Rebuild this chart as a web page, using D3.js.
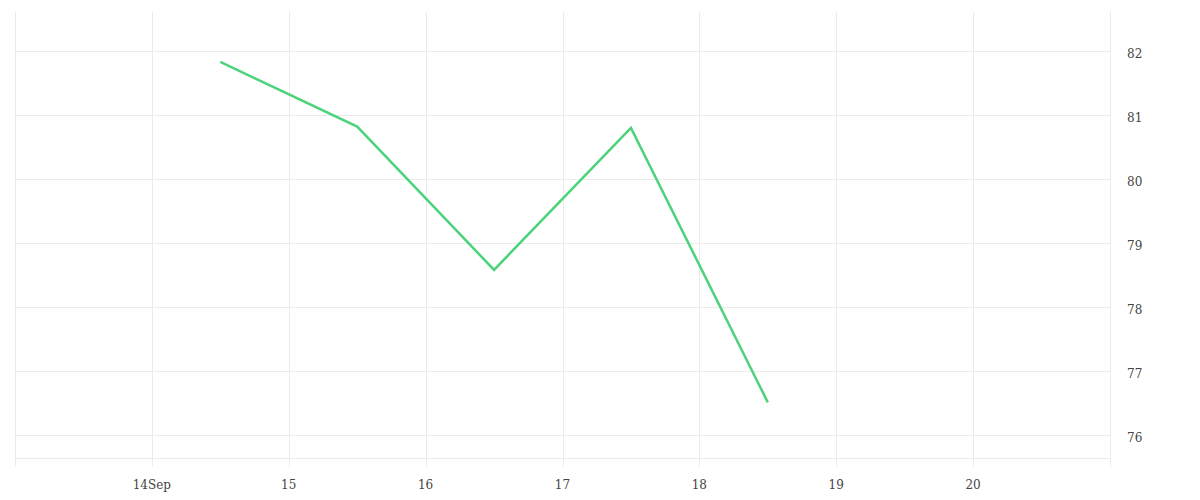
<!DOCTYPE html>
<html>
<head>
<meta charset="utf-8">
<script src="https://cdn.jsdelivr.net/npm/d3@7"></script>
<style>
  body { margin: 0; background: #fff; }
  text { font-family: "DejaVu Serif", serif; font-size: 12px; fill: #444; }
</style>
</head>
<body>
<div id="chart"></div>
<script>
// daily values, plotted at midday
var days = ["2020-09-14", "2020-09-15", "2020-09-16", "2020-09-17", "2020-09-18"];
var values = [81.83, 80.82, 78.58, 80.80, 76.51];
var yTicks = [76, 77, 78, 79, 80, 81, 82];

var W = 1200, H = 500;
var pLeft = 15, pRight = 1110, pTop = 12, pBottom = 458;

var parse = d3.timeParse("%Y-%m-%d");
var data = days.map(function (d, i) {
    return { date: d3.timeHour.offset(parse(d), 12), value: values[i] };
});

var x = d3.scaleTime()
    .domain([parse("2020-09-13"), parse("2020-09-21")])
    .range([pLeft, pRight]);
var y = d3.scaleLinear()
    .domain([75.64, 82.61])
    .range([pBottom, pTop]);

var svg = d3.select("#chart").append("svg")
    .attr("width", W).attr("height", H);

var xTicks = x.ticks(d3.timeDay.every(1));

// vertical grid lines, running past the bottom as ticks
svg.append("g").selectAll("line")
    .data(xTicks)
    .enter()
    .append("line")
    .attr("x1", function (d) { return Math.round(x(d)) + 0.5; })
    .attr("x2", function (d) { return Math.round(x(d)) + 0.5; })
    .attr("y1", pTop)
    .attr("y2", pBottom + 9)
    .attr("stroke", "#ebebeb");

// horizontal grid lines + bottom edge
svg.append("g").selectAll("line")
    .data(yTicks.concat([y.domain()[0]]))
    .enter()
    .append("line")
    .attr("x1", pLeft)
    .attr("x2", pRight)
    .attr("y1", function (d) { return Math.round(y(d)) + 0.5; })
    .attr("y2", function (d) { return Math.round(y(d)) + 0.5; })
    .attr("stroke", "#ebebeb");

// x labels (skip the two edge days)
var fmtFirst = d3.timeFormat("%-d%b"), fmt = d3.timeFormat("%-d");
var labelled = xTicks.slice(1, -1);
svg.append("g").selectAll("text")
    .data(labelled)
    .enter()
    .append("text")
    .attr("x", function (d) { return x(d); })
    .attr("y", 489)
    .attr("text-anchor", "middle")
    .text(function (d, i) { return i === 0 ? fmtFirst(d) : fmt(d); });

// y labels on the right
svg.append("g").selectAll("text")
    .data(yTicks)
    .enter()
    .append("text")
    .attr("x", 1127)
    .attr("y", function (d) { return y(d) + 3; })
    .attr("dy", "0.35em")
    .text(function (d) { return d; });

var line = d3.line()
    .x(function (d) { return x(d.date); })
    .y(function (d) { return y(d.value); });

svg.append("path")
    .datum(data)
    .attr("d", line)
    .attr("fill", "none")
    .attr("stroke", "#4cd37b")
    .attr("stroke-width", 2.5);
</script>
</body>
</html>
